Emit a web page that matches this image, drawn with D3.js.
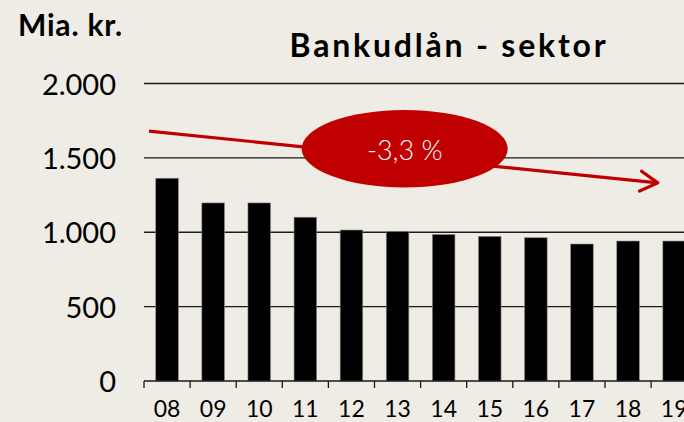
<!DOCTYPE html>
<html>
<head>
<meta charset="utf-8">
<script src="https://cdn.jsdelivr.net/npm/d3@7"></script>
<style>
  html, body { margin: 0; padding: 0; background: #efebe5; }
  svg { display: block; }
  text { font-family: Lato, "Noto Sans", sans-serif; }
</style>
</head>
<body>
<script>
// ---- data ----
const years = ["08","09","10","11","12","13","14","15","16","17","18","19"];
const lending = [1363, 1197, 1197, 1101, 1015, 1005, 985, 972, 963, 921, 941, 941];
const yTicks = [0, 500, 1000, 1500, 2000];
const yTickLabels = ["0", "500", "1.000", "1.500", "2.000"];
const title = "Bankudlån - sektor";
const unitLabel = "Mia. kr.";
const trendLabel = "-3,3 %";
const trendValues = [1680, 1332];   // start / end level of trend arrow

const W = 684, H = 422;
const svg = d3.select("body").append("svg").attr("width", W).attr("height", H);
svg.append("rect").attr("width", W).attr("height", H).attr("fill", "#efebe5");

const x = d3.scaleBand().domain(years).range([144, 144 + 12 * 46.1])
  .paddingInner(0.51).paddingOuter(0.255);
const y = d3.scaleLinear().domain([0, 2000]).range([381, 83.5]);

// gridlines
svg.append("g").selectAll("line").data(yTicks.filter(d => d > 0)).join("line")
  .attr("x1", 144).attr("x2", W)
  .attr("y1", d => y(d)).attr("y2", d => y(d))
  .attr("stroke", "#1a1a1a").attr("stroke-width", 1.3);

// y tick labels
svg.append("g").selectAll("text").data(yTicks).join("text")
  .attr("x", 116).attr("y", d => y(d) + 11)
  .attr("text-anchor", "end").attr("font-size", 29).attr("fill", "#000")
  .text((d, i) => yTickLabels[i]);

// bars
svg.append("g").selectAll("rect").data(lending).join("rect")
  .attr("x", (d, i) => x(years[i]))
  .attr("width", x.bandwidth())
  .attr("y", d => y(d))
  .attr("height", d => y(0) - y(d))
  .attr("fill", "#000").attr("stroke", "#8a8a8a").attr("stroke-width", 0.6);

// x axis
const xa = svg.append("g");
xa.append("line").attr("x1", 144).attr("x2", W).attr("y1", y(0)).attr("y2", y(0))
  .attr("stroke", "#1a1a1a").attr("stroke-width", 1.3);
const step = x.step();
const boundaries = years.map(d => x(d) + x.bandwidth() / 2 - step / 2);
xa.selectAll("line.tick").data(boundaries).join("line").attr("class", "tick")
  .attr("x1", d => d).attr("x2", d => d).attr("y1", y(0)).attr("y2", y(0) + 7)
  .attr("stroke", "#1a1a1a").attr("stroke-width", 1.3);
xa.selectAll("text").data(years).join("text")
  .attr("x", d => x(d) + x.bandwidth() / 2).attr("y", 417)
  .attr("text-anchor", "middle").attr("font-size", 23).attr("fill", "#000")
  .text(d => d);

// title & unit
svg.append("text").attr("x", 449).attr("y", 57).attr("text-anchor", "middle")
  .attr("font-size", 32).attr("font-weight", "bold").attr("letter-spacing", 2.8)
  .attr("fill", "#000").text(title);
svg.append("text").attr("x", 18).attr("y", 36)
  .attr("font-size", 30).attr("font-weight", "bold").attr("letter-spacing", 0.8)
  .attr("fill", "#000").text(unitLabel);

// trend arrow
const red = "#c00000";
const ax1 = boundaries[0] + 5, ay1 = y(trendValues[0]);
const ax2 = boundaries[11] + 6.7, ay2 = y(trendValues[1]);
const ang = Math.atan2(ay2 - ay1, ax2 - ax1);
const arm = 20, spread = 0.52;
const ann = svg.append("g");
ann.append("line").attr("x1", ax1).attr("y1", ay1).attr("x2", ax2).attr("y2", ay2)
  .attr("stroke", red).attr("stroke-width", 3.2);
ann.append("path")
  .attr("d", `M${ax2 - arm * Math.cos(ang - spread)},${ay2 - arm * Math.sin(ang - spread)} L${ax2},${ay2} L${ax2 - arm * Math.cos(ang + spread)},${ay2 - arm * Math.sin(ang + spread)}`)
  .attr("fill", "none").attr("stroke", red).attr("stroke-width", 3.2)
  .attr("stroke-linecap", "round").attr("stroke-linejoin", "round");
ann.append("ellipse").attr("cx", 404.7).attr("cy", 148.7).attr("rx", 103).attr("ry", 38.7)
  .attr("fill", red);
ann.append("text").attr("x", 404.7).attr("y", 160).attr("text-anchor", "middle")
  .attr("font-size", 27).attr("font-weight", 300).attr("fill", "#fff").text(trendLabel);
</script>
</body>
</html>
